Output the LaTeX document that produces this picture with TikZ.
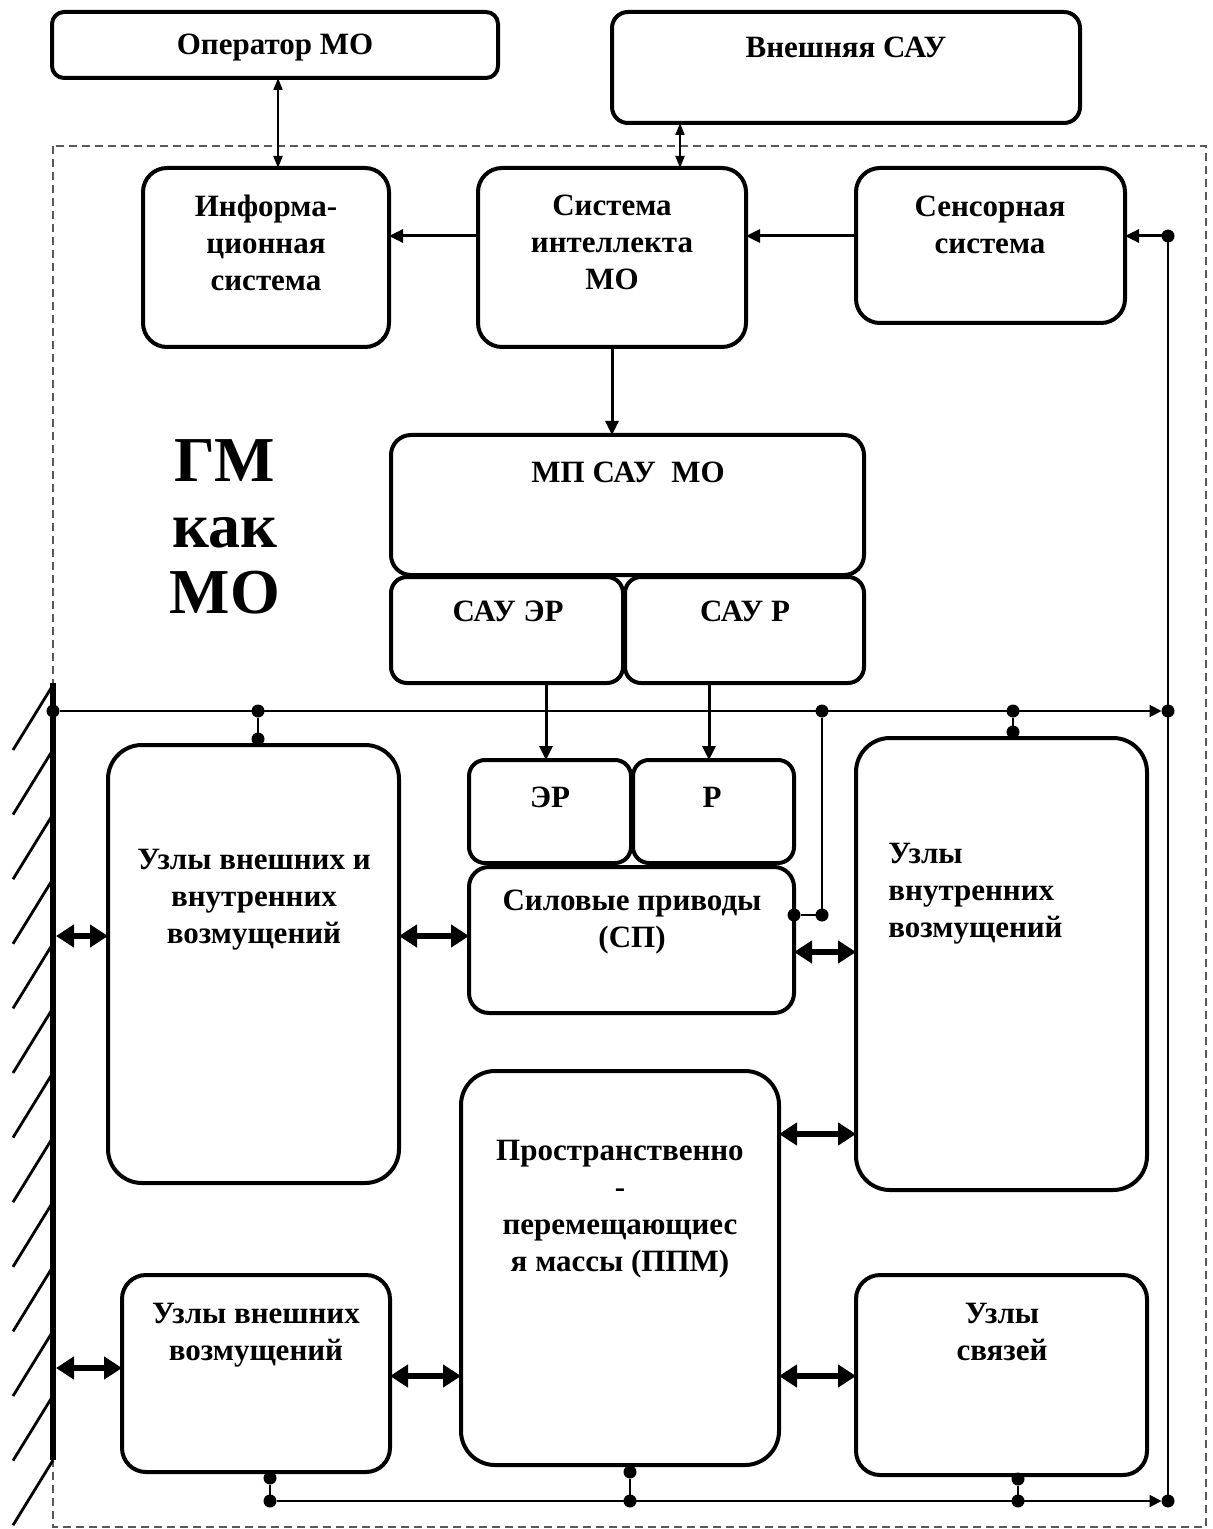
\documentclass[tikz,border=0pt]{standalone}
\usepackage{fontspec}
\setmainfont{Liberation Serif}
\usetikzlibrary{arrows.meta,calc}
\newcommand\mybox[6]{\node[box=#6, minimum width={(#4-#2)*0.5pt}, minimum height={(#5-#3)*0.5pt}] (#1) at ({(#2+#4)/2},{(#3+#5)/2}) {};}
\begin{document}
\begin{tikzpicture}[x=0.5pt,y=-0.5pt,
  box/.style={draw, line width=2pt, rounded corners=#1, inner sep=0pt, outer sep=0pt},
  box/.default=8pt,
  txt/.style={font=\bfseries\fontsize{15.5}{18.5}\selectfont, align=center, inner sep=0pt},
  bigtxt/.style={font=\bfseries\fontsize{32}{33}\selectfont, align=center, inner sep=0pt},
  dot/.style={circle, fill=black, inner sep=0pt, minimum size=6.5pt, outer sep=0pt},
  thinarr/.style={line width=0.9pt, {Triangle[length=6pt,width=4.5pt]}-{Triangle[length=6pt,width=4.5pt]}},
  medarr/.style={line width=1.5pt, -{Triangle[length=7pt,width=6.5pt]}},
  busline/.style={line width=1pt},
  busarr/.style={line width=1pt, -{Triangle[length=6pt,width=6pt]}},
  bigarr/.style={line width=2.6pt, {Triangle[length=9pt,width=11pt]}-{Triangle[length=9pt,width=11pt]}},
  wallline/.style={line width=3pt},
  hatchline/.style={line width=1.4pt},
  frame/.style={draw=black!65, line width=0.6pt, dash pattern=on 4pt off 2.5pt}
]
\useasboundingbox (0,0) rectangle (1212,1529);

% dashed frame
\draw[frame] (53,146) rectangle (1206,1527);

% boxes
\mybox{oper}{52}{12}{498}{78}{6pt}
\mybox{ext}{612}{12}{1080}{123}{8pt}
\mybox{info}{143}{168}{389}{347}{12pt}
\mybox{intel}{478}{168}{746}{347}{12pt}
\mybox{sens}{856}{168}{1125}{323}{12pt}
\mybox{mp}{391}{435}{864}{575}{10pt}
\mybox{saer}{391}{577}{623}{683}{8pt}
\mybox{saur}{625}{577}{864}{683}{8pt}
\mybox{er}{469}{760}{631}{863}{8pt}
\mybox{rr}{633}{760}{794}{863}{8pt}
\mybox{sp}{469}{867}{794}{1013}{10pt}
\mybox{uvv}{108}{745}{399}{1183}{17pt}
\mybox{uvn}{856}{738}{1147}{1190}{17pt}
\mybox{ppm}{461}{1071}{779}{1465}{17pt}
\mybox{uve}{122}{1275}{390}{1472}{12pt}
\mybox{usv}{856}{1275}{1147}{1475}{12pt}

% texts
\node[txt] (toper) at (275,48) {Оператор МО};
\node[txt] (text) at (846,47) {Внешняя САУ};
\node[txt] (tinfo) at (266,243) {Информа-\\ционная\\система};
\node[txt] (tintel) at (612,242) {Система\\интеллекта\\МО};
\node[txt] (tsens) at (990,225) {Сенсорная\\система};
\node[txt] (tmp) at (628,472) {МП САУ\ \ МО};
\node[txt] (tsaer) at (508,611) {САУ ЭР};
\node[txt] (tsaur) at (745,611) {САУ Р};
\node[txt] (ter) at (550,797) {ЭР};
\node[txt] (trr) at (712,797) {Р};
\node[txt] (tsp) at (632,922) {Силовые приводы\\(СП)};
\node[txt] (tuvv) at (254,900) {Узлы внешних и\\внутренних\\возмущений};
\node[txt, align=left, anchor=west] (tuvn) at (888,894) {Узлы\\внутренних\\возмущений};
\node[txt] (tppm) at (620,1209) {Пространственно\\-\\перемещающиес\\я массы (ППМ)};
\node[txt] (tuve) at (256,1335) {Узлы внешних\\возмущений};
\node[txt] (tusv) at (1002,1332) {Узлы\\связей};
\node[bigtxt] (tgm) at (225,527) {ГМ\\как\\МО};

% top connectors
\coordinate (xa) at (278,0);
\draw[thinarr] (oper.south -| xa) -- (info.north -| xa);
\coordinate (xb) at (680,0);
\draw[thinarr] (ext.south -| xb) -- (intel.north -| xb);
\coordinate (ya) at (0,236);
\draw[medarr] (intel.west |- ya) -- (info.east |- ya);
\draw[medarr] (sens.west |- ya) -- (intel.east |- ya);
\node[dot] (rtop) at (1168,236) {};
\draw[medarr] (rtop) -- (sens.east |- rtop);
\draw[medarr] (intel.south) -- (intel.south |- mp.north);
\coordinate (xe) at (546,0);
\draw[medarr] (saer.south -| xe) -- (er.north -| xe);
\coordinate (xr) at (709,0);
\draw[medarr] (saur.south -| xr) -- (rr.north -| xr);

% upper bus
\node[dot] (b1) at (53,711) {};
\node[dot] (b2) at (258,711) {};
\node[dot] (b2d) at (258,739) {};
\node[dot] (b3) at (822,711) {};
\node[dot] (b3d) at (822,915) {};
\node[dot] (b3e) at (794,915) {};
\node[dot] (b4) at (1013,711) {};
\node[dot] (b4d) at (1013,732) {};
\node[dot] (rmid) at (1168,711) {};
\node[dot] (rbot) at (1168,1501) {};
\draw[busarr] (b1) -- (rmid);
\draw[busline] (b2) -- (b2d);
\draw[busline] (b3) -- (b3d) -- (b3e);
\draw[busline] (b4) -- (b4d);
\draw[busline] (rtop) -- (rbot);

% lower bus
\node[dot] (c1) at (270,1501) {};
\node[dot] (c1u) at (270,1478) {};
\node[dot] (c2) at (630,1501) {};
\node[dot] (c2u) at (630,1472) {};
\node[dot] (c3) at (1018,1501) {};
\node[dot] (c3u) at (1018,1479) {};
\draw[busarr] (c1) -- (rbot);
\draw[busline] (c1u) -- (c1);
\draw[busline] (c2u) -- (c2);
\draw[busline] (c3u) -- (c3);

% wall
\coordinate (wt) at (53,683);
\coordinate (wb) at (53,1460);
\draw[wallline] (wt) -- (wb);
\foreach \k in {0,...,12} \draw[hatchline] (53,{685+\k*64.6}) -- ++(-40,65);

% thick double arrows
\coordinate (y1) at (0,936);
\coordinate (y2) at (0,952);
\coordinate (y3) at (0,1134);
\coordinate (y4) at (0,1368);
\coordinate (y5) at (0,1376);
\draw[bigarr, shorten <=1.5pt] (wt |- y1) -- (uvv.west |- y1);
\draw[bigarr] (uvv.east |- y1) -- (sp.west |- y1);
\draw[bigarr] (sp.east |- y2) -- (uvn.west |- y2);
\draw[bigarr] (ppm.east |- y3) -- (uvn.west |- y3);
\draw[bigarr, shorten <=1.5pt] (wb |- y4) -- (uve.west |- y4);
\draw[bigarr] (uve.east |- y5) -- (ppm.west |- y5);
\draw[bigarr] (ppm.east |- y5) -- (usv.west |- y5);
\end{tikzpicture}
\end{document}
